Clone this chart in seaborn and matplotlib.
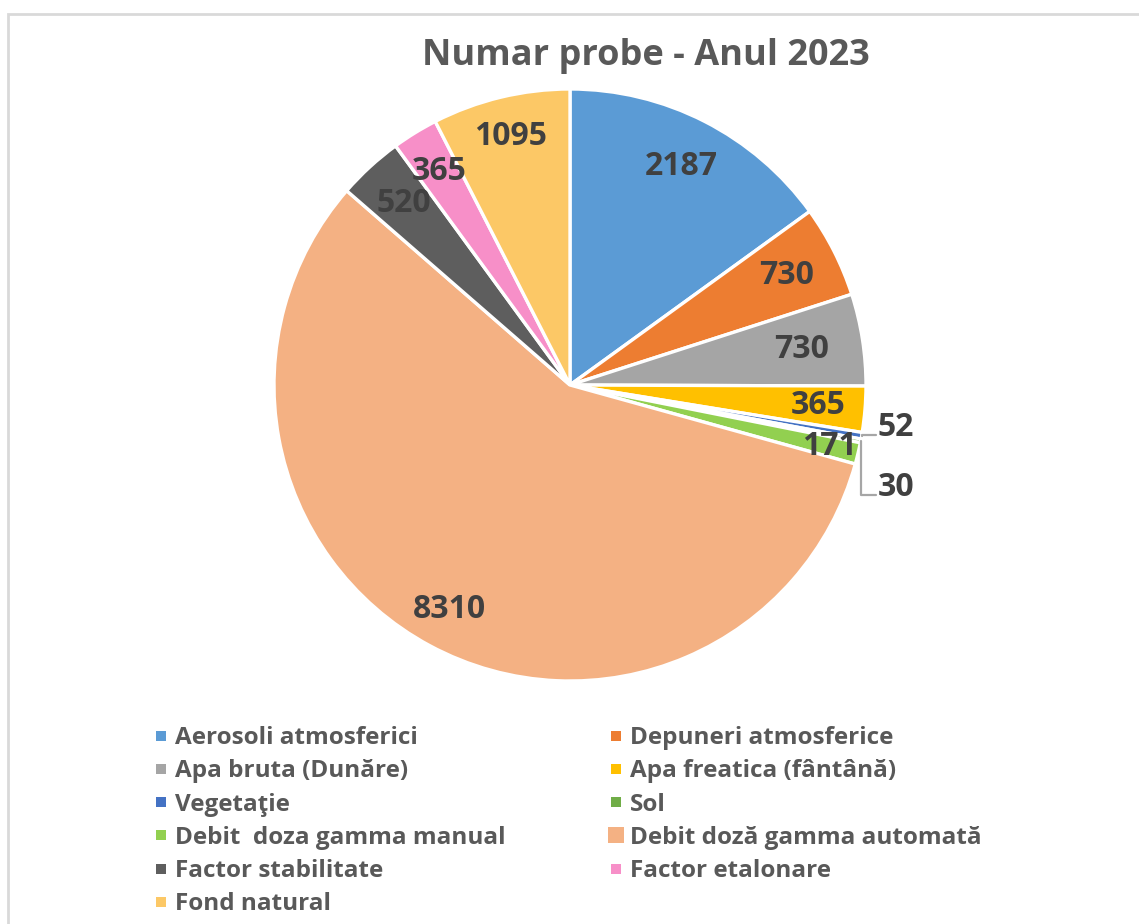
import numpy as np
import matplotlib
matplotlib.use("Agg")
import matplotlib.pyplot as plt
from matplotlib.lines import Line2D
from matplotlib.patches import Rectangle
import seaborn as sns

# data
categories = [
    "Aerosoli atmosferici", "Depuneri atmosferice", "Apa bruta (Dunăre)",
    "Apa freatica (fântână)", "Vegetaţie", "Sol", "Debit  doza gamma manual",
    "Debit doză gamma automată", "Factor stabilitate", "Factor etalonare",
    "Fond natural",
]
counts = [2187, 730, 730, 365, 52, 30, 171, 8310, 520, 365, 1095]
colors = ["#5B9BD5", "#ED7D31", "#A5A5A5", "#FFC000", "#4472C4", "#70AD47",
          "#92D050", "#F4B183", "#5E5E5E", "#F78FC8", "#FCC866"]
title = "Numar probe - Anul 2023"

# label placement (radius units); None -> placed outside with leader line
label_dist = [0.83, 0.82, 0.79, 0.84, None, None, 0.90, 0.86, 0.83, 0.845, 0.865]
outside_pos = {4: (1.10, -0.142), 5: (1.10, -0.345)}

sns.set_theme(style="white")
plt.rcParams["font.family"] = ["Open Sans", "DejaVu Sans"]
plt.rcParams["font.weight"] = "bold"

W, H = 1139, 924
fig = plt.figure(figsize=(W / 100, H / 100), dpi=100)
fig.patch.set_facecolor("white")

cx, cy, r = 570, 385, 296
ax = fig.add_axes([(cx - r) / W, (H - cy - r) / H, 2 * r / W, 2 * r / H])

wedges, _ = ax.pie(counts, colors=colors, startangle=90, counterclock=False,
                   wedgeprops=dict(edgecolor="white", linewidth=2.4))
ax.set_xlim(-1, 1)
ax.set_ylim(-1, 1)
ax.set_aspect("equal")
ax.axis("off")

lbl_color = "#404040"
lbl_size = 23
for i, w in enumerate(wedges):
    ang = np.deg2rad((w.theta1 + w.theta2) / 2)
    if label_dist[i] is not None:
        d = label_dist[i]
        ax.text(d * np.cos(ang), d * np.sin(ang), str(counts[i]), ha="center",
                va="center", fontsize=lbl_size, fontweight="bold", color=lbl_color)
    else:
        lx, ly = outside_pos[i]
        ex, ey = np.cos(ang), np.sin(ang)
        line_y = ly - 0.028
        left = lx - 0.065
        ax.plot([ex, ex, left], [ey, line_y, line_y], color="#A6A6A6",
                lw=1.6, clip_on=False)
        ax.text(lx, ly, str(counts[i]), ha="center", va="center",
                fontsize=lbl_size, fontweight="bold", color=lbl_color,
                clip_on=False)

fig.text(646 / W, 1 - 56 / H, title, ha="center", va="center", fontsize=26,
         fontweight="bold", color="#595959")

# legend in two columns, row-major like the original
handles = []
for i, c in enumerate(categories):
    ms = 11 if i == 7 else 7.5
    handles.append(Line2D([], [], marker="s", linestyle="none", markersize=ms,
                          markerfacecolor=colors[i], markeredgewidth=0, label=c))
col1 = handles[0::2]
col2 = handles[1::2]
leg_kw = dict(loc="upper left", frameon=False, handlelength=0.55,
              handletextpad=0.3, labelspacing=0.38, borderpad=0,
              labelcolor="#595959", prop=dict(weight="bold", size=17.5))
leg1 = fig.legend(handles=col1, bbox_to_anchor=(142 / W, 1 - 714 / H), **leg_kw)
leg2 = fig.legend(handles=col2, bbox_to_anchor=(597 / W, 1 - 714 / H), **leg_kw)

# light frame around the chart (runs past the right/bottom edge)
fig.patches.append(Rectangle((7.5 / W, -0.1), 2, 1 - 13.5 / H + 0.1,
                             transform=fig.transFigure, fill=False,
                             edgecolor="#D9D9D9", linewidth=2))

fig.savefig("out.png", dpi=100)
